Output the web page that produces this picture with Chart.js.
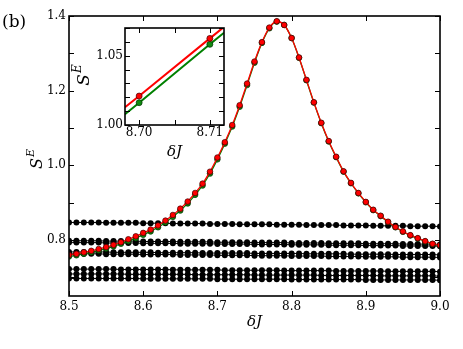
<!DOCTYPE html>
<html><head><meta charset="utf-8">
<script src="https://cdn.jsdelivr.net/npm/chart.js@4/dist/chart.umd.min.js"></script>
<style>
html,body{margin:0;padding:0;background:#fff;}
#wrap{position:relative;width:463px;height:349px;overflow:hidden;}
#main{position:absolute;left:0;top:0;}
#inset{position:absolute;left:60px;top:15px;}
</style></head><body>
<div id="wrap"><canvas id="main" width="463" height="349"></canvas><canvas id="inset" width="180" height="150"></canvas></div>
<script>
// ---------- data ----------
const deltaJ = [8.50,8.51,8.52,8.53,8.54,8.55,8.56,8.57,8.58,8.59,
  8.60,8.61,8.62,8.63,8.64,8.65,8.66,8.67,8.68,8.69,
  8.70,8.71,8.72,8.73,8.74,8.75,8.76,8.77,8.78,8.79,
  8.80,8.81,8.82,8.83,8.84,8.85,8.86,8.87,8.88,8.89,
  8.90,8.91,8.92,8.93,8.94,8.95,8.96,8.97,8.98,8.99,9.00];
const redSE = [0.760,0.763,0.767,0.771,0.776,0.781,0.787,0.794,0.802,0.810,
  0.819,0.828,0.839,0.852,0.867,0.884,0.903,0.926,0.951,0.983,
  1.021,1.062,1.108,1.161,1.219,1.278,1.330,1.369,1.386,1.376,
  1.341,1.289,1.229,1.169,1.114,1.065,1.023,0.984,0.953,0.926,
  0.902,0.881,0.865,0.849,0.835,0.823,0.813,0.805,0.797,0.790,0.786];
const greenSE = [0.756,0.759,0.763,0.767,0.772,0.777,0.783,0.790,0.797,0.805,
  0.814,0.823,0.834,0.847,0.862,0.879,0.898,0.921,0.946,0.978,
  1.016,1.058,1.104,1.157,1.215,1.275,1.328,1.367,1.385,1.376,
  1.341,1.288,1.228,1.168,1.113,1.064,1.022,0.983,0.952,0.925,
  0.901,0.880,0.864,0.848,0.834,0.822,0.812,0.804,0.796,0.789,0.785];
const black1 = [0.847,0.847,0.847,0.847,0.847,0.846,0.846,0.846,0.846,0.846,
  0.845,0.845,0.845,0.845,0.844,0.844,0.844,0.844,0.844,0.843,
  0.843,0.843,0.843,0.842,0.842,0.842,0.842,0.842,0.841,0.841,
  0.841,0.841,0.840,0.840,0.840,0.840,0.840,0.839,0.839,0.839,
  0.839,0.838,0.838,0.838,0.838,0.838,0.837,0.837,0.837,0.837,0.836];
const black2 = [0.798,0.798,0.798,0.798,0.798,0.797,0.797,0.797,0.797,0.797,
  0.796,0.796,0.796,0.796,0.796,0.795,0.795,0.795,0.795,0.795,
  0.794,0.794,0.794,0.794,0.794,0.793,0.793,0.793,0.793,0.793,
  0.792,0.792,0.792,0.792,0.792,0.791,0.791,0.791,0.791,0.791,
  0.790,0.790,0.790,0.790,0.790,0.789,0.789,0.789,0.789,0.789,0.788];
const black3 = [0.793,0.793,0.793,0.793,0.793,0.792,0.792,0.792,0.792,0.792,
  0.791,0.791,0.791,0.791,0.791,0.790,0.790,0.790,0.790,0.790,
  0.789,0.789,0.789,0.789,0.789,0.788,0.788,0.788,0.788,0.788,
  0.787,0.787,0.787,0.787,0.787,0.786,0.786,0.786,0.786,0.786,
  0.785,0.785,0.785,0.785,0.785,0.784,0.784,0.784,0.784,0.784,0.783];
const black4 = [0.768,0.768,0.768,0.768,0.768,0.768,0.767,0.767,0.767,0.767,
  0.767,0.767,0.766,0.766,0.766,0.766,0.766,0.766,0.765,0.765,
  0.765,0.765,0.765,0.765,0.765,0.764,0.764,0.764,0.764,0.764,
  0.764,0.764,0.763,0.763,0.763,0.763,0.763,0.763,0.762,0.762,
  0.762,0.762,0.762,0.762,0.761,0.761,0.761,0.761,0.761,0.761,0.760];
const black5 = [0.763,0.763,0.763,0.763,0.763,0.762,0.762,0.762,0.762,0.762,
  0.761,0.761,0.761,0.761,0.761,0.760,0.760,0.760,0.760,0.760,
  0.759,0.759,0.759,0.759,0.759,0.758,0.758,0.758,0.758,0.758,
  0.757,0.757,0.757,0.757,0.757,0.756,0.756,0.756,0.756,0.756,
  0.755,0.755,0.755,0.755,0.755,0.754,0.754,0.754,0.754,0.754,0.753];
const black6 = [0.722,0.722,0.722,0.722,0.722,0.722,0.722,0.721,0.721,0.721,
  0.721,0.721,0.721,0.721,0.720,0.720,0.720,0.720,0.720,0.720,
  0.720,0.719,0.719,0.719,0.719,0.719,0.719,0.719,0.719,0.718,
  0.718,0.718,0.718,0.718,0.718,0.718,0.717,0.717,0.717,0.717,
  0.717,0.717,0.717,0.716,0.716,0.716,0.716,0.716,0.716,0.716,0.715];
const black7 = [0.709,0.709,0.709,0.709,0.709,0.709,0.709,0.709,0.708,0.708,
  0.708,0.708,0.708,0.708,0.708,0.708,0.708,0.707,0.707,0.707,
  0.707,0.707,0.707,0.707,0.707,0.706,0.706,0.706,0.706,0.706,
  0.706,0.706,0.706,0.706,0.705,0.705,0.705,0.705,0.705,0.705,
  0.705,0.705,0.704,0.704,0.704,0.704,0.704,0.704,0.704,0.704,0.703];
const black8 = [0.697,0.697,0.697,0.697,0.697,0.697,0.697,0.697,0.697,0.697,
  0.696,0.696,0.696,0.696,0.696,0.696,0.696,0.696,0.696,0.696,
  0.695,0.695,0.695,0.695,0.695,0.695,0.695,0.695,0.695,0.695,
  0.694,0.694,0.694,0.694,0.694,0.694,0.694,0.694,0.694,0.694,
  0.693,0.693,0.693,0.693,0.693,0.693,0.693,0.693,0.693,0.693,0.692];
const mainXTicks = [8.5,8.6,8.7,8.8,8.9,9.0];
const mainYTicks = [0.7,0.8,0.9,1.0,1.1,1.2,1.3,1.4];
const mainYLabels = [0.8,1.0,1.2,1.4];

const insetDeltaJ = [8.698,8.700,8.710,8.712];
const insetRed = [1.0128,1.0209,1.0625,1.0708];
const insetGreen = [1.0078,1.0161,1.0582,1.0666];
const insetMarked = [false,true,true,false];
const insetXTicks = [8.700,8.705,8.710];
const insetXLabels = [8.70,8.71];
const insetYTicks = [1.00,1.01,1.02,1.03,1.04,1.05,1.06,1.07];
const insetYLabels = [1.00,1.05];

// ---------- helpers ----------
const SERIF = '"DejaVu Serif", "Liberation Serif", serif';
const near = (a,b) => Math.abs(a-b) < 1e-9;
const pts = (xs, ys) => xs.map((x,i)=>({x:x, y:ys[i]}));

function blackSet(ys){
  return {data: pts(deltaJ, ys), borderColor:'#000', borderWidth:1, pointRadius:3,
    pointBackgroundColor:'#000', pointBorderColor:'#000', pointBorderWidth:0, showLine:true, order:2};
}

function frameTicks(chart, xt, yt, len){
  const {ctx, chartArea:a, scales} = chart;
  ctx.save();
  ctx.strokeStyle = '#000'; ctx.lineWidth = 1;
  ctx.beginPath();
  xt.forEach(v=>{ const px = Math.round(scales.x.getPixelForValue(v))+0.5;
    ctx.moveTo(px, a.bottom); ctx.lineTo(px, a.bottom-len);
    ctx.moveTo(px, a.top); ctx.lineTo(px, a.top+len); });
  yt.forEach(v=>{ const py = Math.round(scales.y.getPixelForValue(v))+0.5;
    ctx.moveTo(a.left, py); ctx.lineTo(a.left+len, py);
    ctx.moveTo(a.right, py); ctx.lineTo(a.right-len, py); });
  ctx.stroke();
  ctx.lineWidth = 1.6;
  ctx.strokeRect(a.left, a.top, a.right-a.left, a.bottom-a.top);
  ctx.restore();
}

function drawSE(ctx, cx, cy, size){
  ctx.save();
  ctx.translate(cx, cy); ctx.rotate(-Math.PI/2);
  ctx.fillStyle = '#000';
  ctx.textBaseline = 'alphabetic';
  const f1 = 'italic ' + size + 'px ' + SERIF;
  const f2 = 'italic ' + Math.round(size*0.7) + 'px ' + SERIF;
  ctx.font = f1; const w1 = ctx.measureText('S').width;
  ctx.font = f2; const w2 = ctx.measureText('E').width;
  const x0 = -(w1 + w2 + 1)/2;
  ctx.font = f1; ctx.fillText('S', x0, size*0.35);
  ctx.font = f2; ctx.fillText('E', x0 + w1 + 1, size*0.35 - size*0.45);
  ctx.restore();
}

// ---------- main chart ----------
const mainPlugin = {
  id:'mainDeco',
  beforeDraw(chart){ const c = chart.ctx; c.save(); c.fillStyle='#fff'; c.fillRect(0,0,chart.width,chart.height); c.restore(); },
  afterDraw(chart){
    frameTicks(chart, mainXTicks, mainYTicks, 5);
    const c = chart.ctx;
    drawSE(c, 36, 159, 16);
    c.save(); c.fillStyle='#000'; c.font = '17px ' + SERIF; c.textBaseline='alphabetic';
    c.fillText('(b)', 2, 27); c.restore();
  }
};

new Chart(document.getElementById('main'), {
  type:'scatter',
  data:{ datasets:[
    {data: pts(deltaJ, redSE), borderColor:'#ff0000', borderWidth:1.3, pointRadius:2.8,
     pointBackgroundColor:'#ff0000', pointBorderColor:'#400000', pointBorderWidth:0.7,
     showLine:true, cubicInterpolationMode:'monotone', order:0},
    {data: pts(deltaJ, greenSE), borderColor:'#008000', borderWidth:1.3, pointRadius:2.8,
     pointBackgroundColor:'#108a10', pointBorderColor:'#003000', pointBorderWidth:0.7,
     showLine:true, cubicInterpolationMode:'monotone', order:1},
    blackSet(black1), blackSet(black2), blackSet(black3), blackSet(black4),
    blackSet(black5), blackSet(black6), blackSet(black7), blackSet(black8)
  ]},
  options:{
    responsive:false, animation:false, devicePixelRatio:1, events:[],
    layout:{padding:{top:16,right:23,left:0,bottom:0}},
    plugins:{legend:{display:false}, tooltip:{enabled:false}},
    scales:{
      x:{type:'linear', min:8.5, max:9.0,
        grid:{display:false, drawTicks:false}, border:{display:false},
        afterBuildTicks: s => { s.ticks = mainXTicks.map(v=>({value:v})); },
        afterFit: s => { s.height = 53; },
        ticks:{padding:4, color:'#000', maxRotation:0, autoSkip:false,
          font:{family:SERIF, size:12}, callback: v => Number(v).toFixed(1)},
        title:{display:true, text:'δJ', color:'#000',
          font:{family:SERIF, size:15, style:'italic'}, padding:{top:0,bottom:18}}
      },
      y:{type:'linear', min:0.65, max:1.4,
        grid:{display:false, drawTicks:false}, border:{display:false},
        afterBuildTicks: s => { s.ticks = mainYTicks.map(v=>({value:v})); },
        afterFit: s => { s.width = 69; },
        ticks:{padding:3, color:'#000', autoSkip:false,
          font:{family:SERIF, size:12},
          callback: v => mainYLabels.some(l=>near(l,v)) ? Number(v).toFixed(1) : ''}
      }
    }
  },
  plugins:[mainPlugin]
});

// ---------- inset chart ----------
const insetPlugin = {
  id:'insetDeco',
  beforeDatasetsDraw(chart){ const a = chart.chartArea, c = chart.ctx;
    c.save(); c.fillStyle='#fff'; c.fillRect(a.left, a.top, a.right-a.left, a.bottom-a.top); c.restore(); },
  afterDraw(chart){
    frameTicks(chart, insetXTicks, insetYTicks, 5);
    drawSE(chart.ctx, 23, 60, 17);
  }
};

new Chart(document.getElementById('inset'), {
  type:'scatter',
  data:{ datasets:[
    {data: pts(insetDeltaJ, insetRed), borderColor:'#ff0000', borderWidth:2, showLine:true,
     pointRadius: insetMarked.map(m=>m?3:0), pointBackgroundColor:'#ff0000',
     pointBorderColor:'#400000', pointBorderWidth:0.7, order:0},
    {data: pts(insetDeltaJ, insetGreen), borderColor:'#008000', borderWidth:2, showLine:true,
     pointRadius: insetMarked.map(m=>m?3:0), pointBackgroundColor:'#108a10',
     pointBorderColor:'#003000', pointBorderWidth:0.7, order:1}
  ]},
  options:{
    responsive:false, animation:false, devicePixelRatio:1, events:[],
    layout:{padding:{top:13,right:16,left:0,bottom:0}},
    plugins:{legend:{display:false}, tooltip:{enabled:false}},
    scales:{
      x:{type:'linear', min:8.698, max:8.712,
        grid:{display:false, drawTicks:false}, border:{display:false},
        afterBuildTicks: s => { s.ticks = insetXTicks.map(v=>({value:v})); },
        afterFit: s => { s.height = 40; },
        ticks:{padding:1, color:'#000', maxRotation:0, autoSkip:false,
          font:{family:SERIF, size:12},
          callback: v => insetXLabels.some(l=>near(l,v)) ? Number(v).toFixed(2) : ''},
        title:{display:true, text:'δJ', color:'#000',
          font:{family:SERIF, size:15, style:'italic'}, padding:{top:0,bottom:4}}
      },
      y:{type:'linear', min:1.0, max:1.07,
        grid:{display:false, drawTicks:false}, border:{display:false},
        afterBuildTicks: s => { s.ticks = insetYTicks.map(v=>({value:v})); },
        afterFit: s => { s.width = 65; },
        ticks:{padding:2, color:'#000', autoSkip:false,
          font:{family:SERIF, size:12},
          callback: v => insetYLabels.some(l=>near(l,v)) ? Number(v).toFixed(2) : ''}
      }
    }
  },
  plugins:[insetPlugin]
});
</script>
</body></html>
